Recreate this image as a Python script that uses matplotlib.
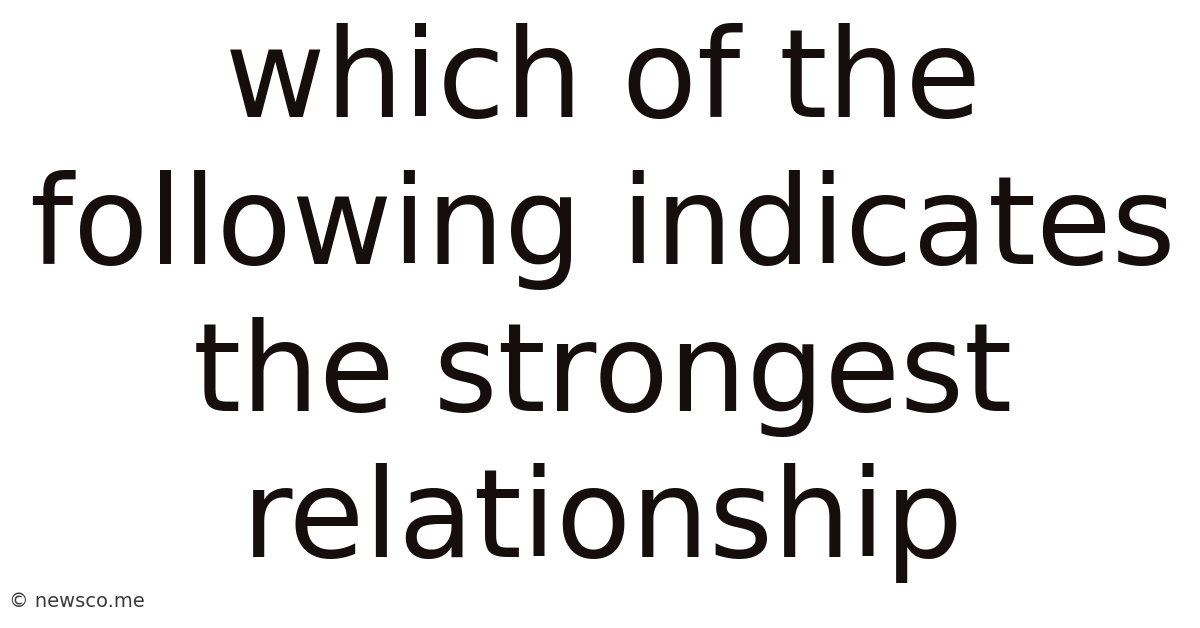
import matplotlib.pyplot as plt

lines = ['which of the', 'following indicates', 'the strongest', 'relationship']
baselines_px = [117, 264, 411, 557]
watermark = '© newsco.me'

fig = plt.figure(figsize=(12, 6.28), dpi=100)
fig.patch.set_facecolor('white')

for txt, y in zip(lines, baselines_px):
    fig.text(602.5 / 1200, 1 - y / 628, txt, ha='center', va='baseline',
             fontsize=88.5, color='#160d0d', family='DejaVu Sans')

fig.text(9 / 1200, 1 - 607 / 628, watermark, ha='left', va='baseline',
         fontsize=14, color='#3a3a3a', family='DejaVu Sans')

fig.savefig('out.png', dpi=100, facecolor='white')
